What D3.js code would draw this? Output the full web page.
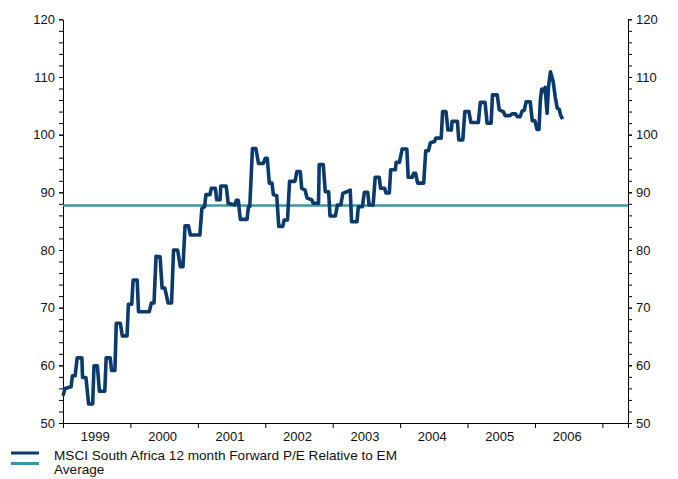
<!DOCTYPE html>
<html>
<head>
<meta charset="utf-8">
<script src="https://cdn.jsdelivr.net/npm/d3@7/dist/d3.min.js"></script>
<style>
  html, body { margin: 0; padding: 0; background: #fff; }
  svg { display: block; font-family: "Liberation Sans", Arial, sans-serif; }
  .axis path, .axis line { stroke: #000; }
</style>
</head>
<body>
<svg id="chart" width="678" height="479"></svg>
<script>
// MSCI South Africa 12-month forward P/E relative to EM (decimal year, value)
const seriesDates = [
  1999.00, 1999.03, 1999.12, 1999.14, 1999.18, 1999.21, 1999.28, 1999.29, 1999.34, 1999.38,
  1999.44, 1999.46, 1999.51, 1999.54, 1999.62, 1999.64, 1999.70, 1999.72, 1999.77, 1999.79,
  1999.85, 1999.88, 1999.95, 1999.97, 2000.02, 2000.04, 2000.10, 2000.12, 2000.28, 2000.31,
  2000.35, 2000.38, 2000.44, 2000.47, 2000.51, 2000.56, 2000.61, 2000.64, 2000.70, 2000.74,
  2000.78, 2000.81, 2000.86, 2000.89, 2001.03, 2001.06, 2001.10, 2001.12, 2001.18, 2001.20,
  2001.26, 2001.28, 2001.33, 2001.34, 2001.42, 2001.45, 2001.55, 2001.57, 2001.60, 2001.63,
  2001.73, 2001.75, 2001.77, 2001.81, 2001.86, 2001.90, 2001.97, 2002.00, 2002.03, 2002.06,
  2002.10, 2002.12, 2002.17, 2002.20, 2002.26, 2002.28, 2002.33, 2002.36, 2002.44, 2002.47,
  2002.52, 2002.54, 2002.59, 2002.62, 2002.69, 2002.71, 2002.79, 2002.80, 2002.86, 2002.89,
  2002.94, 2002.96, 2003.04, 2003.07, 2003.12, 2003.15, 2003.21, 2003.26, 2003.28, 2003.36,
  2003.38, 2003.44, 2003.47, 2003.52, 2003.54, 2003.60, 2003.63, 2003.69, 2003.71, 2003.77,
  2003.79, 2003.84, 2003.86, 2003.93, 2003.94, 2003.99, 2004.03, 2004.10, 2004.12, 2004.18,
  2004.20, 2004.23, 2004.26, 2004.35, 2004.38, 2004.42, 2004.45, 2004.51, 2004.53, 2004.61,
  2004.63, 2004.68, 2004.71, 2004.76, 2004.77, 2004.85, 2004.87, 2004.93, 2004.96, 2005.02,
  2005.05, 2005.16, 2005.19, 2005.26, 2005.29, 2005.35, 2005.37, 2005.44, 2005.47, 2005.53,
  2005.56, 2005.63, 2005.66, 2005.71, 2005.74, 2005.78, 2005.81, 2005.84, 2005.87, 2005.93,
  2005.96, 2006.00, 2006.03, 2006.06, 2006.08, 2006.10, 2006.13, 2006.15, 2006.18, 2006.20,
  2006.23, 2006.27, 2006.30, 2006.33, 2006.36, 2006.38, 2006.41
];
const seriesValues = [
  54.7, 56.0, 56.3, 58.2, 58.2, 61.3, 61.3, 57.9, 57.9, 53.3,
  53.3, 59.9, 59.9, 55.5, 55.5, 61.3, 61.3, 59.1, 59.1, 67.3,
  67.3, 65.1, 65.1, 70.6, 70.6, 74.8, 74.8, 69.3, 69.3, 70.8,
  70.8, 78.9, 78.8, 73.4, 73.4, 70.8, 70.8, 80.0, 80.0, 77.1,
  77.1, 84.2, 84.2, 82.6, 82.6, 87.2, 87.5, 89.6, 89.6, 90.7,
  90.7, 88.7, 88.7, 91.1, 91.1, 88.1, 87.8, 88.6, 88.6, 85.3,
  85.3, 87.5, 87.5, 97.6, 97.6, 95.0, 95.0, 95.9, 95.9, 91.6,
  91.6, 89.6, 89.4, 84.1, 84.1, 85.2, 85.2, 91.9, 91.9, 93.6,
  93.6, 90.7, 90.4, 89.0, 88.7, 88.1, 88.1, 94.8, 94.8, 90.1,
  90.1, 85.9, 85.9, 87.8, 87.8, 89.8, 90.1, 90.4, 84.9, 84.9,
  87.5, 87.5, 90.0, 90.0, 87.8, 87.8, 92.6, 92.6, 90.7, 90.7,
  89.9, 89.9, 93.9, 93.9, 95.2, 95.2, 97.5, 97.5, 92.6, 92.6,
  93.3, 93.3, 91.6, 91.6, 97.2, 97.2, 98.6, 98.8, 99.4, 99.4,
  104.0, 104.0, 100.8, 100.8, 102.3, 102.3, 99.1, 99.1, 104.0, 104.0,
  102.1, 102.1, 105.6, 105.6, 102.0, 102.0, 106.9, 106.9, 104.3, 104.0,
  103.3, 103.3, 103.6, 103.6, 103.1, 103.1, 104.1, 104.2, 105.7, 105.7,
  102.4, 102.4, 100.9, 100.9, 106.0, 107.9, 107.5, 108.2, 103.7, 108.2,
  110.9, 109.2, 106.6, 104.6, 104.4, 103.4, 102.7
];
const averageValue = 87.7;

const yearLabels = ["1999", "2000", "2001", "2002", "2003", "2004", "2005", "2006"];
const yearTicks = [1999, 2000, 2001, 2002, 2003, 2004, 2005, 2006, 2007];
const xDomain = [1999, 2007.38];
const yDomain = [50, 120];
const yMajorTicks = [50, 60, 70, 80, 90, 100, 110, 120];
const yMinorTicks = d3.range(50, 121, 2);

const legendLabels = ["MSCI South Africa 12 month Forward P/E Relative to EM", "Average"];
const seriesColor = "#0b3a6c";
const averageColor = "#3a96a5";

const svg = d3.select("#chart");
const plotLeft = 63, plotRight = 628, plotTop = 19.3, plotBottom = 423;

const x = d3.scaleLinear().domain(xDomain).range([plotLeft, plotRight]);
const y = d3.scaleLinear().domain(yDomain).range([plotBottom, plotTop]);

// Left axis: minor ticks, then major labelled ticks
svg.append("g").attr("class", "axis").attr("transform", `translate(${plotLeft},0)`)
  .call(d3.axisLeft(y).tickValues(yMinorTicks).tickSize(4).tickFormat(""))
  .call(g => g.select(".domain").remove());
svg.append("g").attr("class", "axis").attr("transform", `translate(${plotLeft},0)`)
  .call(d3.axisLeft(y).tickValues(yMajorTicks).tickSize(4).tickSizeOuter(0).tickPadding(4).tickFormat(d3.format("d")))
  .call(g => g.selectAll("text").attr("font-size", 13).attr("fill", "#111"));

// Right axis
svg.append("g").attr("class", "axis").attr("transform", `translate(${plotRight},0)`)
  .call(d3.axisRight(y).tickValues(yMinorTicks).tickSize(4).tickFormat(""))
  .call(g => g.select(".domain").remove());
svg.append("g").attr("class", "axis").attr("transform", `translate(${plotRight},0)`)
  .call(d3.axisRight(y).tickValues(yMajorTicks).tickSize(4).tickSizeOuter(0).tickPadding(4).tickFormat(d3.format("d")))
  .call(g => g.selectAll("text").attr("font-size", 13).attr("fill", "#111"));

// Bottom axis: ticks on year boundaries, labels centred within each year
const xAxisG = svg.append("g").attr("class", "axis").attr("transform", `translate(0,${plotBottom})`)
  .call(d3.axisBottom(x).tickValues(yearTicks.concat([xDomain[1]])).tickSize(5).tickSizeOuter(0).tickFormat(""));
xAxisG.selectAll(".yearLabel")
  .data(yearLabels)
  .join("text")
  .attr("class", "yearLabel")
  .attr("x", d => x(+d + 0.5) - 1.5)
  .attr("y", 18)
  .attr("text-anchor", "middle")
  .attr("font-size", 13)
  .attr("fill", "#111")
  .text(d => d);

// Average line
svg.append("line")
  .attr("x1", x(xDomain[0])).attr("x2", x(xDomain[1]))
  .attr("y1", y(averageValue)).attr("y2", y(averageValue))
  .attr("stroke", averageColor).attr("stroke-width", 2.5);

// Series line
const points = seriesDates.map((d, i) => [d, seriesValues[i]]);
svg.append("path")
  .datum(points)
  .attr("fill", "none")
  .attr("stroke", seriesColor)
  .attr("stroke-width", 3.6)
  .attr("stroke-linejoin", "round")
  .attr("d", d3.line().x(d => x(d[0])).y(d => y(d[1])));

// Legend
const legend = svg.append("g");
const legendColors = [seriesColor, averageColor];
legendLabels.forEach((label, i) => {
  const ly = 453 + i * 10.5;
  legend.append("line")
    .attr("x1", 11).attr("x2", 39).attr("y1", ly).attr("y2", ly)
    .attr("stroke", legendColors[i]).attr("stroke-width", 3);
  legend.append("text")
    .attr("x", 54).attr("y", 459.5 + i * 14)
    .attr("font-size", 13.6).attr("fill", "#111")
    .text(label);
});
</script>
</body>
</html>
